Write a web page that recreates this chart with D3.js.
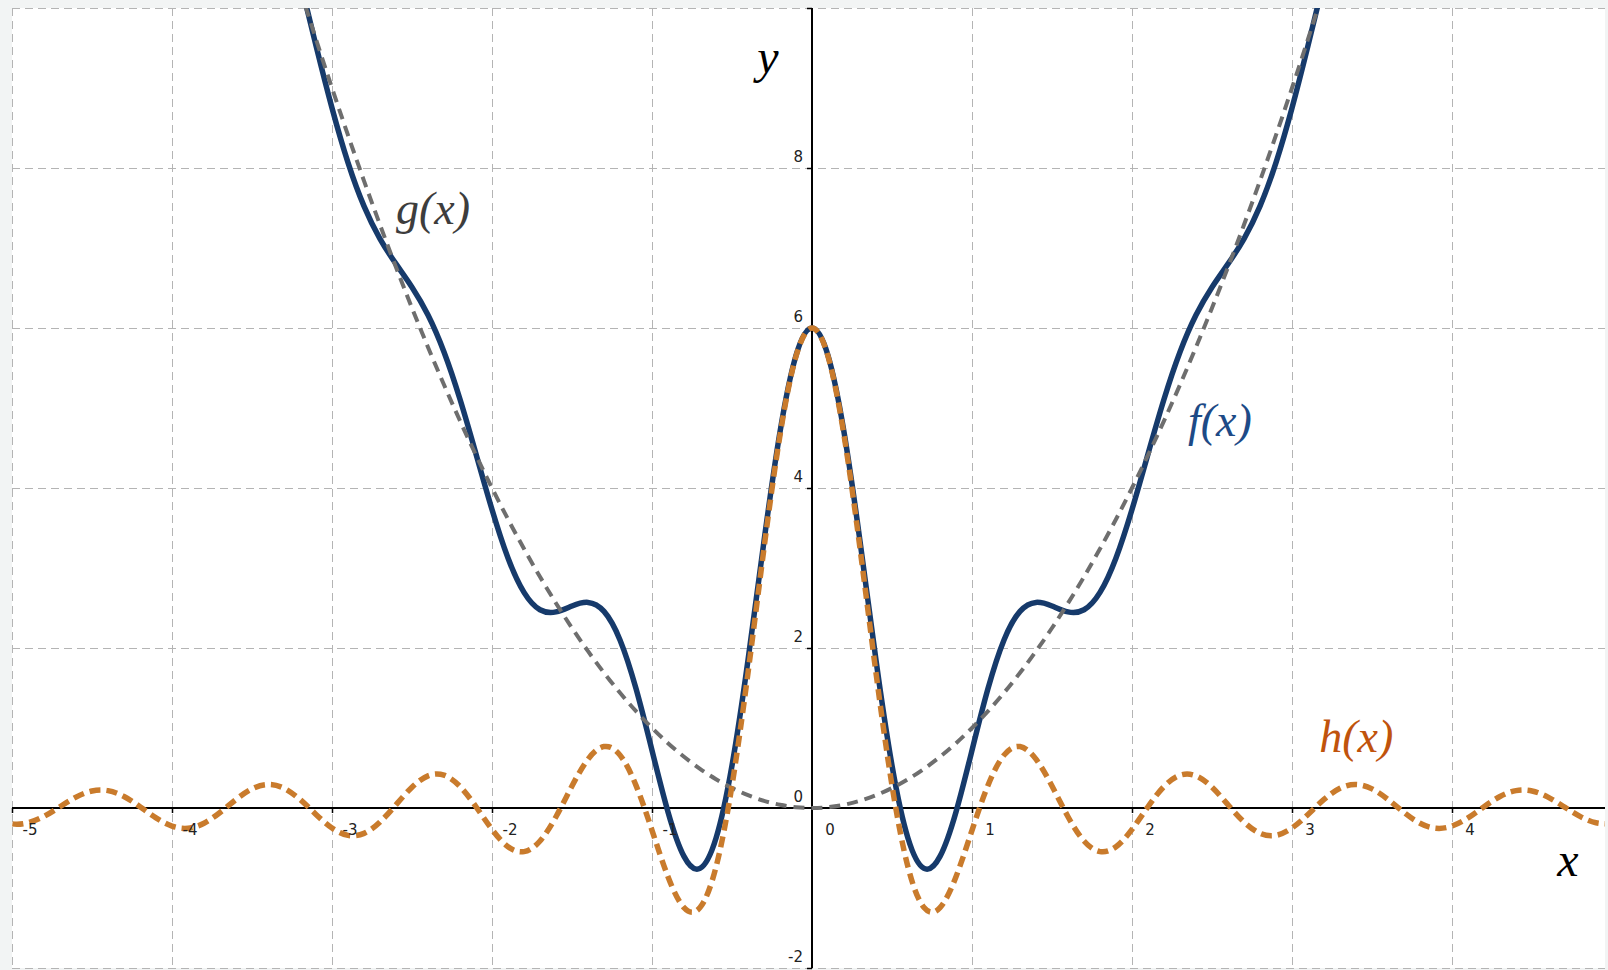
<!DOCTYPE html>
<html>
<head>
<meta charset="utf-8">
<script src="https://cdn.jsdelivr.net/npm/d3@7"></script>
<style>
  html, body { margin: 0; padding: 0; background: #f2f4f4; }
  svg { display: block; }
</style>
</head>
<body>
<svg id="chart" width="1608" height="970"></svg>
<script>
// ---- data ----
const xTickValues = [-5, -4, -3, -2, -1, 0, 1, 2, 3, 4];
const xTickLabels = ["-5", "-4", "-3", "-2", "-1", "0", "1", "2", "3", "4"];
const yTickValues = [-2, 0, 2, 4, 6, 8, 10];
const yTickLabels = ["-2", "0", "2", "4", "6", "8", ""];

// sample positions for h(x)
const hX = [-5.1,-5.0,-4.9,-4.8,-4.7,-4.6,-4.5,-4.4,-4.3,-4.2,-4.1,-4.0,-3.9,-3.8,-3.7,-3.6,-3.5,-3.4,-3.3,-3.2,-3.1,-3.0,-2.9,-2.8,-2.7,-2.6,-2.5,-2.4,-2.3,-2.2,-2.1,-2.0,-1.9,-1.8,-1.7,-1.6,-1.5,-1.4,-1.3,-1.2,-1.1,-1.0,-0.9,-0.8,-0.7,-0.6,-0.5,-0.4,-0.3,-0.2,-0.1,0,0.1,0.2,0.3,0.4,0.5,0.6,0.7,0.8,0.9,1.0,1.1,1.2,1.3,1.4,1.5,1.6,1.7,1.8,1.9,2.0,2.1,2.2,2.3,2.4,2.5,2.6,2.7,2.8,2.9,3.0,3.1,3.2,3.3,3.4,3.5,3.6,3.7,3.8,3.9,4.0,4.1,4.2,4.3,4.4,4.5,4.6,4.7,4.8,4.9,5.0];
const hValues = [-0.143,-0.198,-0.184,-0.105,0.016,0.136,0.213,0.217,0.144,0.016,-0.124,-0.226,-0.253,-0.190,-0.056,0.106,0.239,0.294,0.247,0.107,-0.080,-0.250,-0.342,-0.317,-0.175,0.041,0.260,0.402,0.410,0.269,0.016,-0.268,-0.484,-0.545,-0.412,-0.109,0.275,0.610,0.768,0.661,0.283,-0.279,-0.859,-1.245,-1.245,-0.738,0.282,1.689,3.246,4.660,5.646,6.000,5.646,4.660,3.246,1.689,0.282,-0.738,-1.245,-1.245,-0.859,-0.279,0.283,0.661,0.768,0.610,0.275,-0.109,-0.412,-0.545,-0.484,-0.268,0.016,0.269,0.410,0.402,0.260,0.041,-0.175,-0.317,-0.342,-0.250,-0.080,0.107,0.247,0.294,0.239,0.106,-0.056,-0.190,-0.253,-0.226,-0.124,0.016,0.144,0.217,0.213,0.136,0.016,-0.105,-0.184,-0.198];

// sample positions for f(x) and g(x)
const fgX = [-3.2,-3.1,-3.0,-2.9,-2.8,-2.7,-2.6,-2.5,-2.4,-2.3,-2.2,-2.1,-2.0,-1.9,-1.8,-1.7,-1.6,-1.5,-1.4,-1.3,-1.2,-1.1,-1.0,-0.9,-0.8,-0.7,-0.6,-0.5,-0.4,-0.3,-0.2,-0.1,0,0.1,0.2,0.3,0.4,0.5,0.6,0.7,0.8,0.9,1.0,1.1,1.2,1.3,1.4,1.5,1.6,1.7,1.8,1.9,2.0,2.1,2.2,2.3,2.4,2.5,2.6,2.7,2.8,2.9,3.0,3.1,3.2];
const fValues = [10.347,9.530,8.750,8.068,7.523,7.115,6.801,6.510,6.162,5.700,5.109,4.426,3.732,3.126,2.695,2.478,2.451,2.525,2.570,2.458,2.101,1.493,0.721,-0.049,-0.605,-0.755,-0.378,0.532,1.849,3.336,4.700,5.656,6.000,5.656,4.700,3.336,1.849,0.532,-0.378,-0.755,-0.605,-0.049,0.721,1.493,2.101,2.458,2.570,2.525,2.451,2.478,2.695,3.126,3.732,4.426,5.109,5.700,6.162,6.510,6.801,7.115,7.523,8.068,8.750,9.530,10.347];
const gValues = [10.24,9.61,9.00,8.41,7.84,7.29,6.76,6.25,5.76,5.29,4.84,4.41,4.00,3.61,3.24,2.89,2.56,2.25,1.96,1.69,1.44,1.21,1.00,0.81,0.64,0.49,0.36,0.25,0.16,0.09,0.04,0.01,0,0.01,0.04,0.09,0.16,0.25,0.36,0.49,0.64,0.81,1.00,1.21,1.44,1.69,1.96,2.25,2.56,2.89,3.24,3.61,4.00,4.41,4.84,5.29,5.76,6.25,6.76,7.29,7.84,8.41,9.00,9.61,10.24];

const curveLabels = ["g(x)", "f(x)", "h(x)"];
const curveLabelPos = [[-2.6, 7.3], [2.35, 4.65], [3.17, 0.7]]; // label anchor in data units

// ---- layout ----
const plotLeft = 12, plotRight = 1605, plotTop = 8, plotBottom = 968;
const x = d3.scaleLinear().domain([-5, -5 + (plotRight - plotLeft) / 160]).range([plotLeft, plotRight]);
const y = d3.scaleLinear().domain([-2, 10]).range([plotBottom, plotTop]);

const svg = d3.select("#chart");

svg.append("rect").attr("x", plotLeft).attr("y", plotTop)
  .attr("width", plotRight - plotLeft).attr("height", plotBottom - plotTop).attr("fill", "#ffffff");

svg.append("defs").append("clipPath").attr("id", "plotClip")
  .append("rect").attr("x", plotLeft).attr("y", plotTop)
  .attr("width", plotRight - plotLeft).attr("height", plotBottom - plotTop);

// grid
const grid = svg.append("g").attr("stroke", "#b4b4b4").attr("stroke-width", 1)
  .attr("stroke-dasharray", "8,5").attr("fill", "none");
grid.selectAll("line.v").data(xTickValues).join("line").attr("class", "v")
  .attr("x1", d => Math.round(x(d)) + 0.5).attr("x2", d => Math.round(x(d)) + 0.5)
  .attr("y1", plotTop).attr("y2", plotBottom);
grid.selectAll("line.h").data(yTickValues).join("line").attr("class", "h")
  .attr("y1", d => Math.round(y(d)) + 0.5).attr("y2", d => Math.round(y(d)) + 0.5)
  .attr("x1", plotLeft).attr("x2", plotRight);

// axes
const xAxis = d3.axisBottom(x).tickValues(xTickValues.filter(v => v !== 0))
  .tickSize(5).tickFormat("");
const gx = svg.append("g").attr("transform", `translate(0,${y(0)})`).call(xAxis);
gx.select(".domain").remove();
gx.selectAll(".tick line").attr("stroke", "#000").attr("stroke-width", 1.5);
svg.append("line").attr("x1", plotLeft).attr("x2", plotRight).attr("y1", y(0)).attr("y2", y(0))
  .attr("stroke", "#000").attr("stroke-width", 2);

const yAxis = d3.axisLeft(y).tickValues(yTickValues.filter(v => v !== 0))
  .tickSize(5).tickFormat("");
const gy = svg.append("g").attr("transform", `translate(${x(0)},0)`).call(yAxis);
gy.select(".domain").remove();
gy.selectAll(".tick line").attr("stroke", "#000").attr("stroke-width", 1.5);
svg.append("line").attr("x1", x(0)).attr("x2", x(0)).attr("y1", plotTop).attr("y2", plotBottom)
  .attr("stroke", "#000").attr("stroke-width", 2);

// curves
const plot = svg.append("g").attr("clip-path", "url(#plotClip)");
const line = d3.line().x(d => x(d[0])).y(d => y(d[1])).curve(d3.curveNatural);

plot.append("path").datum(d3.zip(fgX, fValues)).attr("d", line)
  .attr("fill", "none").attr("stroke", "#163a6b").attr("stroke-width", 5.5)
  .attr("stroke-linejoin", "round");
plot.append("path").datum(d3.zip(fgX, gValues)).attr("d", line)
  .attr("fill", "none").attr("stroke", "#6e6e6e").attr("stroke-width", 4)
  .attr("stroke-dasharray", "11,7");
plot.append("path").datum(d3.zip(hX, hValues)).attr("d", line)
  .attr("fill", "none").attr("stroke", "#c97b2c").attr("stroke-width", 5.5)
  .attr("stroke-dasharray", "11,6");

// tick labels
const tickFont = "'DejaVu Sans', sans-serif";
svg.append("g").selectAll("text").data(xTickValues).join("text")
  .attr("x", d => x(d) + 18).attr("y", y(0) + 27)
  .attr("text-anchor", "middle").attr("font-family", tickFont).attr("font-size", 15)
  .attr("fill", "#222").text((d, i) => xTickLabels[i]);
svg.append("g").selectAll("text").data(yTickValues).join("text")
  .attr("x", x(0) - 9).attr("y", d => y(d) - 6)
  .attr("text-anchor", "end").attr("font-family", tickFont).attr("font-size", 15)
  .attr("fill", "#222").text((d, i) => yTickLabels[i]);

// axis names
const serif = "'Liberation Serif', 'DejaVu Serif', serif";
svg.append("text").attr("x", 1568).attr("y", 876).attr("text-anchor", "middle")
  .attr("font-family", serif).attr("font-style", "italic").attr("font-size", 48)
  .attr("fill", "#000").text("x");
svg.append("text").attr("x", 768).attr("y", 73).attr("text-anchor", "middle")
  .attr("font-family", serif).attr("font-style", "italic").attr("font-size", 48)
  .attr("fill", "#000").text("y");

// curve labels
const labelColors = ["#3d3d3d", "#1d4a86", "#c0530c"];
svg.append("g").selectAll("text").data(curveLabels).join("text")
  .attr("x", (d, i) => x(curveLabelPos[i][0]))
  .attr("y", (d, i) => y(curveLabelPos[i][1]))
  .attr("font-family", serif).attr("font-style", "italic").attr("font-size", 46)
  .attr("fill", (d, i) => labelColors[i]).text(d => d);
</script>
</body>
</html>
